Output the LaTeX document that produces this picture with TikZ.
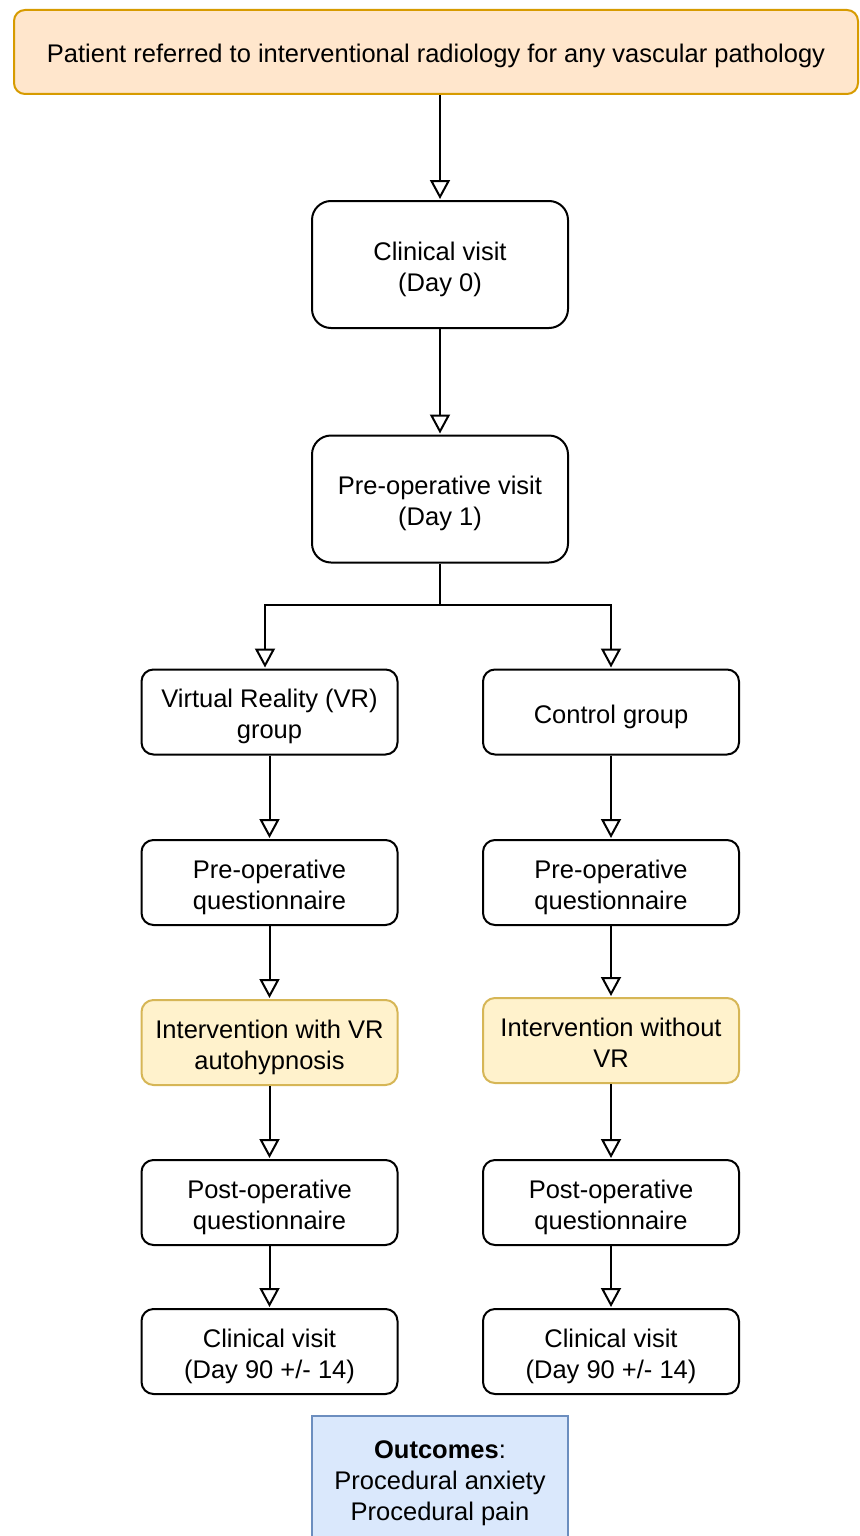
\documentclass[tikz,border=0pt]{standalone}
\usepackage{fontspec}
\setmainfont{Liberation Sans}
\usetikzlibrary{arrows.meta}
\definecolor{peachfill}{HTML}{FFE6CC}
\definecolor{peachdraw}{HTML}{D79B00}
\definecolor{yelfill}{HTML}{FFF2CC}
\definecolor{yeldraw}{HTML}{D6B656}
\definecolor{bluefill}{HTML}{DAE8FC}
\definecolor{bluedraw}{HTML}{6C8EBF}
\newcommand\toptrut{\rule{0pt}{28pt}}
\newcommand\botstrut{\rule[-6pt]{0pt}{6pt}}
\newcommand\twolines[2]{\toptrut#1\\#2\botstrut}
\newcommand\oneline[1]{\toptrut#1\botstrut}
\tikzset{
  txt/.style={font=\fontsize{25.5}{31}\selectfont},
  box/.style={draw=black, line width=2pt, rounded corners=12pt, fill=white,
    align=center, inner sep=0pt, minimum width=256pt, minimum height=85pt, txt},
  bigbox/.style={box, minimum height=127pt, rounded corners=19pt},
  yelbox/.style={box, fill=yelfill, draw=yeldraw},
  arr/.style={line width=2pt, -{Triangle[open, length=19pt, width=20pt, line width=2pt]}, shorten >=1pt},
  conn/.style={line width=2pt}
}
\begin{document}
\begin{tikzpicture}[x=1pt,y=1pt]
\useasboundingbox (0,0) rectangle (859,-1536);
% top
\node[box, minimum width=844pt, minimum height=84pt, rounded corners=11pt, fill=peachfill, draw=peachdraw] (top) at (436,-52) {\oneline{Patient referred to interventional radiology for any vascular pathology}};
\node[bigbox] (cv) at (440,-264.5) {\twolines{Clinical visit}{(Day 0)}};
\node[bigbox] (pv) at (440,-499) {\twolines{Pre-operative visit}{(Day 1)}};
% left column
\node[box] (vr) at (269.5,-712) {\twolines{Virtual Reality (VR)}{group}};
\node[box] (lq) at (269.5,-882.5) {\twolines{Pre-operative}{questionnaire}};
\node[yelbox] (li) at (269.5,-1042.5) {\twolines{Intervention with VR}{autohypnosis}};
\node[box] (lp) at (269.5,-1202.5) {\twolines{Post-operative}{questionnaire}};
\node[box] (lc) at (269.5,-1351.5) {\twolines{Clinical visit}{(Day 90 +/- 14)}};
% right column
\node[box] (cg) at (611,-712) {\oneline{Control group}};
\node[box] (rq) at (611,-882.5) {\twolines{Pre-operative}{questionnaire}};
\node[yelbox] (ri) at (611,-1040.5) {\twolines{Intervention without}{VR}};
\node[box] (rp) at (611,-1202.5) {\twolines{Post-operative}{questionnaire}};
\node[box] (rc) at (611,-1351.5) {\twolines{Clinical visit}{(Day 90 +/- 14)}};
% outcomes
\node[draw=bluedraw, fill=bluefill, line width=2pt, minimum width=256pt, minimum height=135pt, inner sep=0pt, anchor=north] (out) at (440,-1415) {};
\node[txt, align=center, anchor=north, inner sep=0pt] (outtxt) at (440,-1440) {\textbf{Outcomes}:\\Procedural anxiety\\Procedural pain};
% connectors
\draw[arr] (top.south -| cv.north) -- (cv.north);
\draw[arr] (cv.south) -- (pv.north);
\coordinate (split) at (440,-605);
\draw[conn] (pv.south) -- (split);
\draw[arr] (split) -| ([xshift=-4.5pt]vr.north);
\draw[arr] (split) -| (cg.north);
\draw[arr] (vr) -- (lq);
\draw[arr] (lq) -- (li);
\draw[arr] (li) -- (lp);
\draw[arr] (lp) -- (lc);
\draw[arr] (cg) -- (rq);
\draw[arr] (rq) -- (ri);
\draw[arr] (ri) -- (rp);
\draw[arr] (rp) -- (rc);
\end{tikzpicture}
\end{document}
